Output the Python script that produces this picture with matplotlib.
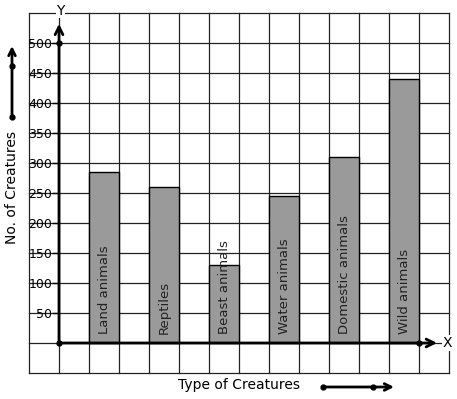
import matplotlib
matplotlib.use("Agg")
import matplotlib.pyplot as plt
import numpy as np

categories = ["Land animals", "Reptiles", "Beast animals", "Water animals",
              "Domestic animals", "Wild animals"]
values = [285, 260, 130, 245, 310, 440]
y_ticks = [50, 100, 150, 200, 250, 300, 350, 400, 450, 500]
y_tick_labels = ["50", "100", "150", "200", "250", "300", "350", "400", "450", "500"]

W, H = 457, 399
fig = plt.figure(figsize=(W / 100, H / 100), dpi=100)
ax = fig.add_axes([29 / W, (H - 373) / H, (449 - 29) / W, (373 - 13) / H])
ax.set_xlim(-1, 13)
ax.set_ylim(-50, 550)

# grid
for gx in np.arange(-1, 14):
    ax.axvline(gx, color="#222222", lw=0.9, zorder=1, clip_on=False)
for gy in np.arange(-50, 551, 50):
    ax.axhline(gy, color="#222222", lw=0.9, zorder=1, clip_on=False)

# bars
xpos = [1.5 + 2 * i for i in range(len(categories))]
ax.bar(xpos, values, width=1.0, color="#9a9a9a", edgecolor="black",
       linewidth=1.0, zorder=2)
for x, name in zip(xpos, categories):
    ax.text(x, 15, name, rotation=90, ha="center", va="bottom",
            fontsize=9.5, color="#222222", zorder=3)

# axes
for s in ["top", "right", "bottom"]:
    ax.spines[s].set_visible(False)
ax.spines["left"].set_position(("data", 0))
ax.spines["left"].set_visible(False)
ax.set_yticks(y_ticks)
ax.set_yticklabels(y_tick_labels, fontsize=9)
ax.tick_params(axis="y", direction="out", length=5, width=1, pad=0,
               colors="black")
ax.set_xticks([])

ax.annotate("", xy=(0, 532), xytext=(0, 0),
            arrowprops=dict(arrowstyle="->", lw=2, color="black",
                            mutation_scale=14, shrinkA=0, shrinkB=0),
            zorder=5, annotation_clip=False)
ax.annotate("", xy=(12.6, 0), xytext=(0, 0),
            arrowprops=dict(arrowstyle="->", lw=2, color="black",
                            mutation_scale=14, shrinkA=0, shrinkB=0),
            zorder=5, annotation_clip=False)
ax.plot([0, 0, 12], [0, 500, 0], "o", color="black", ms=3.5, zorder=6,
        clip_on=False)
ax.text(0.05, 554, "Y", fontsize=10, ha="center", va="center", zorder=6,
        bbox=dict(facecolor="white", edgecolor="none", pad=0.5))
ax.text(12.95, 0, "X", fontsize=10, ha="center", va="center", zorder=6,
        bbox=dict(facecolor="white", edgecolor="none", pad=0.5))

# axis titles and side arrows
fig.text(12 / W, 1 - 187 / H, "No. of Creatures", rotation=90,
         ha="center", va="center", fontsize=10)
fig.text(239 / W, 1 - 385 / H, "Type of Creatures", ha="center",
         va="center", fontsize=10)
fig.add_artist(matplotlib.patches.FancyArrowPatch(
    (12, H - 117), (12, H - 46), transform=None, arrowstyle="->",
    lw=2, color="black", mutation_scale=12, shrinkA=0, shrinkB=0))
fig.add_artist(matplotlib.patches.FancyArrowPatch(
    (323, H - 387), (394, H - 387), transform=None, arrowstyle="->",
    lw=2, color="black", mutation_scale=12, shrinkA=0, shrinkB=0))
for px, py in [(12, 117), (12, 66), (323, 387), (373, 387)]:
    fig.add_artist(matplotlib.lines.Line2D([px], [H - py],
                   marker="o", color="black", ms=3.5, transform=None))

fig.savefig("out.png", dpi=100)
